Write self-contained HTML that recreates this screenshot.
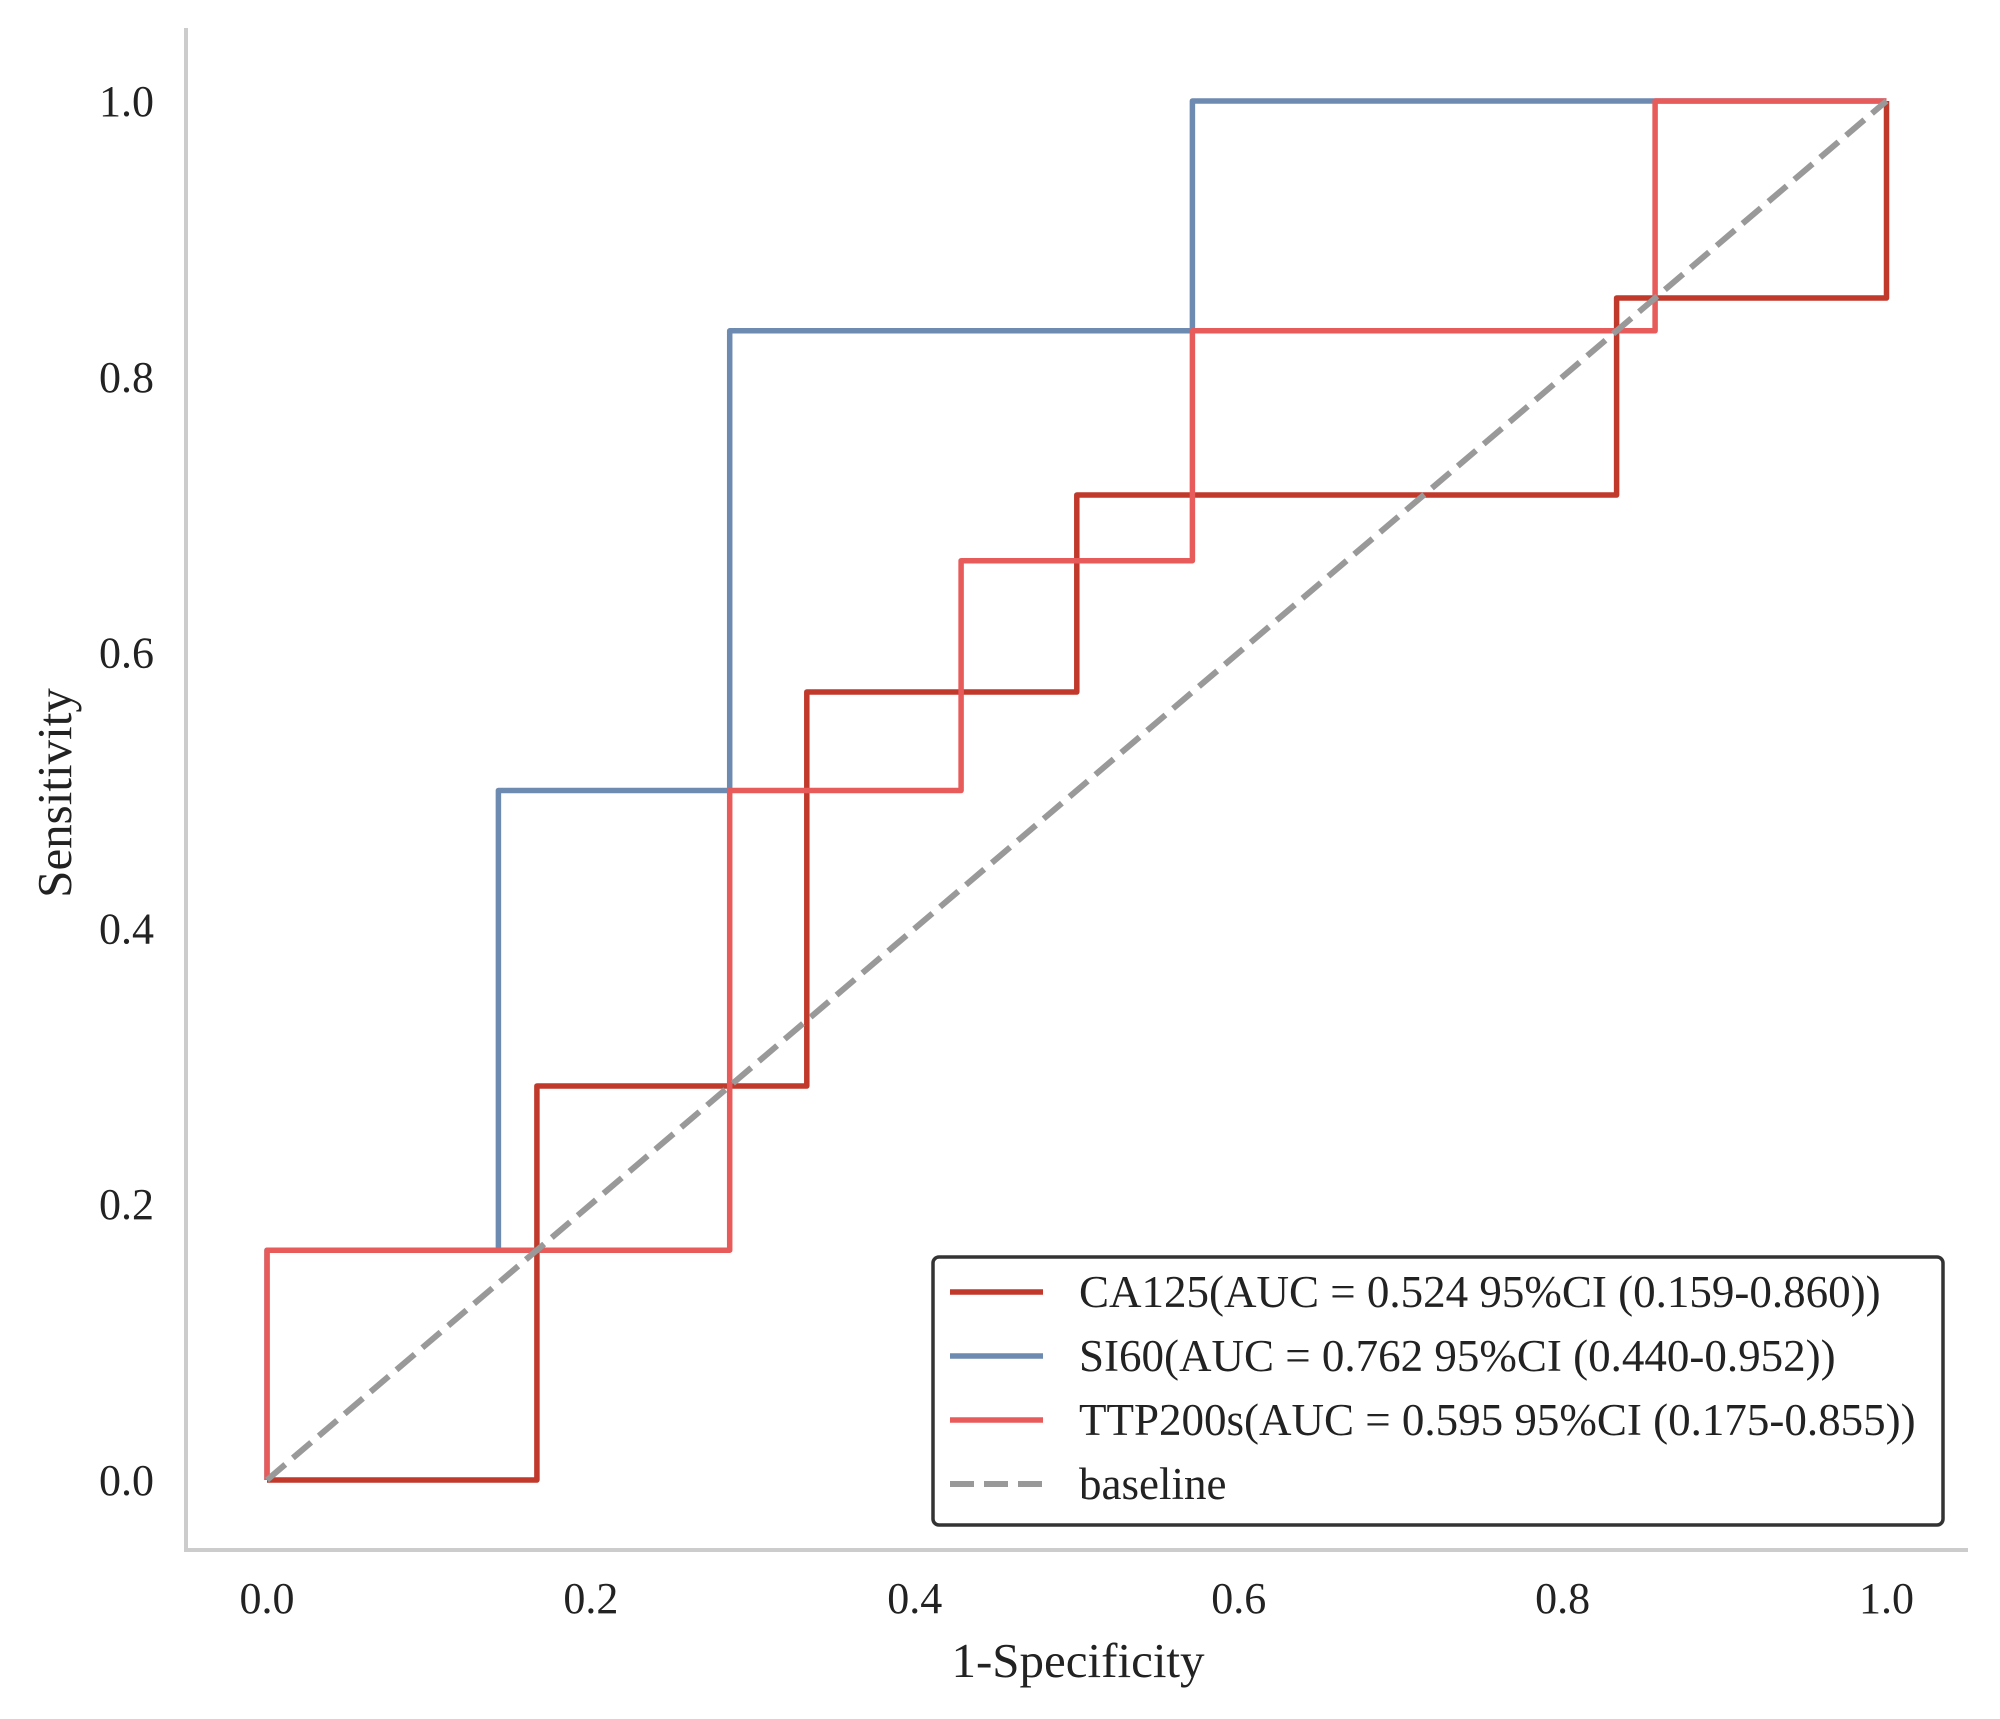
<!DOCTYPE html>
<html><head><meta charset="utf-8"><style>
html,body{margin:0;padding:0;background:#fff;}
svg{display:block;font-family:"Liberation Serif",serif;}
</style></head><body>
<svg id="chart" width="2000" height="1719" xmlns="http://www.w3.org/2000/svg">
<g id="plot"></g>
</svg>
<script>
const ticks = [0, 0.2, 0.4, 0.6, 0.8, 1.0];
const tickLabels = ["0.0","0.2","0.4","0.6","0.8","1.0"];
const seriesNames = ["CA125(AUC = 0.524 95%CI (0.159-0.860))","SI60(AUC = 0.762 95%CI (0.440-0.952))","TTP200s(AUC = 0.595 95%CI (0.175-0.855))","baseline"];
const ca125X = [0, 1/6, 1/6, 1/3, 1/3, 0.5, 0.5, 5/6, 5/6, 1, 1];
const ca125Y = [0, 0, 2/7, 2/7, 4/7, 4/7, 5/7, 5/7, 6/7, 6/7, 1];
const si60X = [0, 0, 1/7, 1/7, 2/7, 2/7, 4/7, 4/7, 1];
const si60Y = [0, 1/6, 1/6, 0.5, 0.5, 5/6, 5/6, 1, 1];
const ttpX = [0, 0, 2/7, 2/7, 3/7, 3/7, 4/7, 4/7, 6/7, 6/7, 1];
const ttpY = [0, 1/6, 1/6, 0.5, 0.5, 2/3, 2/3, 5/6, 5/6, 1, 1];
const baseX = [0, 1];
const baseY = [0, 1];

const NS = "http://www.w3.org/2000/svg";
const X0 = 267, X1 = 1886.5, Y0 = 1480, Y1 = 101;
const sx = v => X0 + v * (X1 - X0);
const sy = v => Y0 - v * (Y0 - Y1);
const g = document.getElementById('plot');
function mk(tag, attrs, parent) {
  const e = document.createElementNS(NS, tag);
  for (const k in attrs) e.setAttribute(k, attrs[k]);
  (parent || g).appendChild(e);
  return e;
}
let sp = mk('line', {x1: 186, y1: 28, x2: 186, y2: 1550, stroke: '#cccccc', 'stroke-width': 4});


sp = mk('line', {x1: 184, y1: 1550, x2: 1968, y2: 1550, stroke: '#cccccc', 'stroke-width': 4});


ticks.forEach((t, i) => {
  let tx = mk('text', {x: sx(t), y: 1613, 'text-anchor': 'middle', 'font-size': 44, fill: '#222'});
  tx.textContent = tickLabels[i];
  
  
  let ty = mk('text', {x: 154, y: sy(t) + 15, 'text-anchor': 'end', 'font-size': 44, fill: '#222'});
  ty.textContent = tickLabels[i];
  
  
});
let xt = mk('text', {x: 1078, y: 1677, 'text-anchor': 'middle', 'font-size': 49, fill: '#222'});
xt.textContent = '1-Specificity';


let yt = mk('text', {x: 0, y: 0, 'text-anchor': 'middle', 'font-size': 49, fill: '#222', transform: 'translate(71,793) rotate(-90)'});
yt.textContent = 'Sensitivity';


const series = [
  {x: ca125X, y: ca125Y, c: '#c0392b', d: null, n: 'ca125-roc-line'},
  {x: si60X, y: si60Y, c: '#6d8ab0', d: null, n: 'si60-roc-line'},
  {x: ttpX, y: ttpY, c: '#e85b5b', d: null, n: 'ttp200s-roc-line'},
  {x: baseX, y: baseY, c: '#999999', d: '24,10', n: 'baseline-line'}
];
series.forEach(s => {
  const pts = s.x.map((v, i) => sx(v).toFixed(1) + ',' + sy(s.y[i]).toFixed(1)).join(' ');
  const a = {points: pts, fill: 'none', stroke: s.c, 'stroke-width': 5.5, 'stroke-linejoin': 'round'};
  if (s.d) { a['stroke-dasharray'] = s.d; a['stroke-width'] = 6; }
  const p = mk('polyline', a);
  
  
});
const lg = mk('g', {});


mk('rect', {x: 933, y: 1257, width: 1010, height: 268, rx: 6, fill: '#fff', stroke: '#333', 'stroke-width': 3.5}, lg);
series.forEach((s, i) => {
  const y = 1292 + i * 64;
  const a = {x1: 950, y1: y, x2: 1043, y2: y, stroke: s.c, 'stroke-width': 5.5};
  if (s.d) { a['stroke-dasharray'] = '24,10'; a['stroke-width'] = 6; }
  const l = mk('line', a, lg);
  
  
  const t = mk('text', {x: 1079, y: y + 15, 'font-size': 45, fill: '#222'}, lg);
  t.textContent = seriesNames[i];
  
  
});
</script>
</body></html>
